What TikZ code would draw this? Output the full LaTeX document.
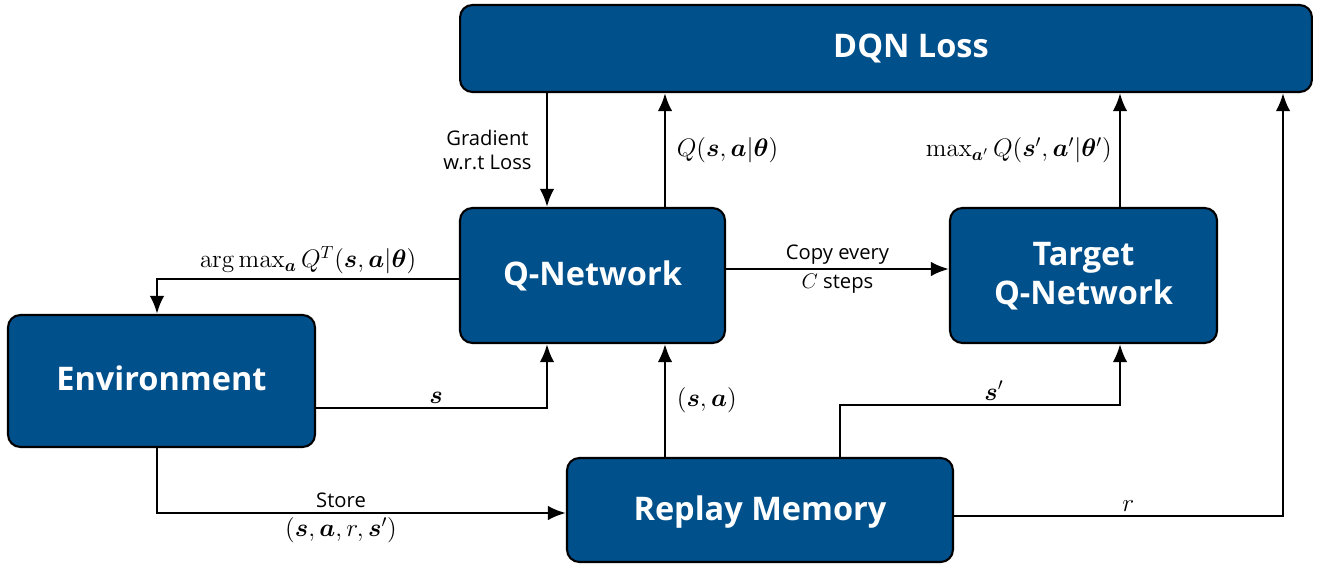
\documentclass[tikz,border=0pt]{standalone}
\usepackage{amsmath}
\usepackage{bm}
\usepackage[no-math]{fontspec}
\setmainfont{Open Sans}
\usepackage{tikz}
\usetikzlibrary{arrows.meta, positioning}
\usepackage{xcolor}
\definecolor{qblue}{RGB}{0,80,140}

\begin{document}
\begin{tikzpicture}[x=0.02cm,y=-0.02cm,line width=1.5pt,
    >={Latex[length=3.6mm,width=2.9mm]},
    lbl/.style={font=\fontsize{11.5}{14}\selectfont, align=center, inner sep=2pt},
    mth/.style={font=\fontsize{14}{16}\selectfont, inner sep=2pt}]
  \tikzstyle{block}=[draw=black, line width=1.2pt, fill=qblue, rounded corners=7pt,
    text=white, font=\bfseries\fontsize{18.5}{22}\selectfont, align=center,
    text depth=0.5ex]

  \useasboundingbox (0,0) rectangle (1317,567);

  \node[block, minimum width=17.04cm, minimum height=1.74cm] (loss)   at (886,48.5)   {\hspace*{1.0cm}DQN Loss};
  \node[block, minimum width=5.30cm,  minimum height=2.70cm] (qnet)   at (592.5,275.5) {Q-Network};
  \node[block, minimum width=5.34cm,  minimum height=2.70cm] (target) at (1083.5,275.5) {Target\\Q-Network};
  \node[block, minimum width=6.14cm,  minimum height=2.64cm] (env)    at (161.5,381)   {Environment};
  \node[block, minimum width=7.72cm,  minimum height=2.08cm] (replay) at (760,510)     {Replay Memory};

  % x positions of the vertical runs
  \coordinate (xgrad) at (547,0);
  \coordinate (xq)    at (665,0);
  \coordinate (xmax)  at (1120,0);
  \coordinate (xr)    at (1283,0);
  \coordinate (xenv)  at (157,0);
  \coordinate (xsp)   at (840,0);
  % y positions of the horizontal runs
  \coordinate (yarg)   at (0,279);
  \coordinate (ycopy)  at (0,269);
  \coordinate (ys)     at (0,408);
  \coordinate (ysp)    at (0,405);
  \coordinate (ystore) at (0,513);
  \coordinate (yr)     at (0,516);

  \draw[->] (loss.south -| xgrad) -- node[lbl, left=6pt] {Gradient\\w.r.t Loss} (qnet.north -| xgrad);
  \draw[->] (qnet.north -| xq) -- node[mth, right=4pt] {$Q(\bm{s},\bm{a}|\bm{\theta})$} (loss.south -| xq);
  \draw[->] (target.north -| xmax) -- node[mth, left=2pt] {$\max_{\bm{a}'} Q(\bm{s}',\bm{a}'|\bm{\theta}')$} (loss.south -| xmax);
  \draw[->] (replay.east |- yr) -- node[mth, above, pos=0.53] {$r$} (xr |- yr) -- (loss.south -| xr);

  \draw[->] (qnet.west |- yarg) -- node[mth, above, pos=0.5] {$\arg\max_{\bm{a}} Q^T(\bm{s},\bm{a}|\bm{\theta})$} (xenv |- yarg) -- (env.north -| xenv);
  \draw[->] (qnet.east |- ycopy) -- node[lbl, above] {Copy every} node[lbl, below] {$C$ steps} (target.west |- ycopy);

  \draw[->] (env.east |- ys) -- node[mth, above, pos=0.52] {$\bm{s}$} (xgrad |- ys) -- (qnet.south -| xgrad);
  \draw[->] (replay.north -| xq) -- node[mth, right=4pt] {$(\bm{s},\bm{a})$} (qnet.south -| xq);
  \draw[->] (replay.north -| xsp) -- (xsp |- ysp) -- node[mth, above, pos=0.55] {$\bm{s}'$} (xmax |- ysp) -- (target.south -| xmax);

  \draw[->] (env.south -| xenv) -- (xenv |- ystore) -- node[lbl, above, pos=0.45] {Store} node[mth, below, pos=0.45] {$(\bm{s},\bm{a},r,\bm{s}')$} (replay.west |- ystore);
\end{tikzpicture}
\end{document}
